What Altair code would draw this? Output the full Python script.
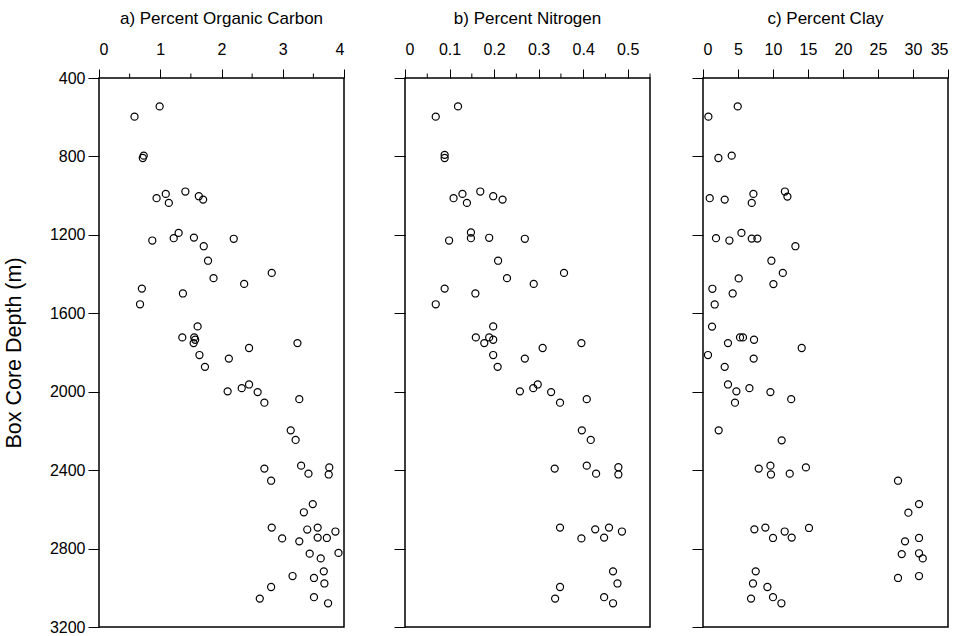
import altair as alt
import pandas as pd

# ---- data ----
depth_a = [545, 597, 796, 808, 1013, 991, 1037, 979, 1003, 1020, 1229, 1217, 1190, 1214, 1258, 1220,
           1332, 1421, 1394, 1450, 1474, 1499, 1554, 1667, 1723, 1723, 1735, 1752, 1777, 1752,
           1813, 1831, 1873, 1998, 1982, 1963, 2002, 2056, 2038, 2197, 2246, 2392, 2454, 2377,
           2418, 2386, 2422, 2573, 2615, 2693, 2748, 2703, 2693, 2744, 2746, 2713, 2763, 2826,
           2850, 2822, 2916, 2940, 2950, 2978, 2996, 3055, 3048, 3079]
carbon = [0.99, 0.58, 0.73, 0.715, 0.94, 1.09, 1.14, 1.41, 1.63, 1.70, 0.87, 1.22, 1.30, 1.55, 1.71, 2.20,
          1.78, 1.87, 2.82, 2.37, 0.70, 1.37, 0.67, 1.61, 1.36, 1.555, 1.57, 1.545, 2.45, 3.24,
          1.64, 2.12, 1.73, 2.10, 2.33, 2.45, 2.59, 2.70, 3.27, 3.13, 3.21, 2.70, 2.81, 3.30,
          3.42, 3.76, 3.75, 3.49, 3.345, 2.82, 2.99, 3.40, 3.57, 3.57, 3.72, 3.86, 3.27, 3.44,
          3.62, 3.91, 3.67, 3.16, 3.51, 3.68, 2.81, 2.625, 3.51, 3.74]

depth_b = [545, 597, 792, 808, 1013, 991, 1037, 979, 1003, 1020, 1229, 1188, 1217, 1215, 1220,
           1332, 1421, 1394, 1450, 1474, 1499, 1554, 1667, 1723, 1723, 1735, 1752, 1777, 1752,
           1813, 1831, 1873, 1998, 1982, 1963, 2002, 2056, 2038, 2197, 2246, 2392, 2377, 2418,
           2385, 2422, 2693, 2748, 2702, 2693, 2744, 2713, 2916, 2978, 2996, 3055, 3048, 3079]
nitrogen = [0.119, 0.069, 0.089, 0.089, 0.109, 0.129, 0.139, 0.169, 0.198, 0.219, 0.099, 0.148, 0.148, 0.189, 0.269,
            0.209, 0.229, 0.357, 0.289, 0.089, 0.158, 0.069, 0.198, 0.159, 0.189, 0.198, 0.178, 0.309, 0.396,
            0.198, 0.269, 0.208, 0.258, 0.288, 0.298, 0.328, 0.348, 0.408, 0.397, 0.417, 0.336, 0.408, 0.429,
            0.479, 0.479, 0.348, 0.396, 0.427, 0.458, 0.447, 0.487, 0.467, 0.477, 0.348, 0.337, 0.447, 0.467]

depth_c = [545, 597, 808, 796, 1013, 1020, 991, 1037, 979, 1005, 1217, 1229, 1190, 1219, 1219, 1258,
           1332, 1394, 1451, 1422, 1475, 1499, 1555, 1668, 1752, 1723, 1723, 1735, 1777,
           1813, 1831, 1873, 1963, 1998, 1982, 2002, 2056, 2038, 2197, 2248, 2392, 2377, 2422,
           2418, 2386, 2454, 2573, 2617, 2702, 2693, 2746, 2713, 2744, 2695, 2746, 2763,
           2828, 2824, 2850, 2916, 2978, 2996, 3055, 3048, 3079, 2950, 2940]
clay = [4.96, 0.77, 2.2, 4.1, 0.96, 3.1, 7.2, 6.96, 11.7, 12.06, 1.86, 3.77, 5.49, 6.96, 7.77, 13.2,
        9.77, 11.4, 10.06, 5.1, 1.34, 4.24, 1.67, 1.29, 3.57, 5.29, 5.71, 7.29, 14.1,
        0.71, 7.24, 3.1, 3.57, 4.77, 6.63, 9.63, 4.57, 12.6, 2.24, 11.24, 7.96, 9.63, 9.71,
        12.39, 14.7, 27.86, 30.86, 29.34, 7.34, 8.91, 10.0, 11.67, 12.67, 15.14, 30.86, 28.86,
        28.39, 30.86, 31.39, 7.53, 7.14, 9.2, 6.86, 10.0, 11.2, 27.86, 30.86]

titles = ["a) Percent Organic Carbon", "b) Percent Nitrogen", "c) Percent Clay"]
major_a = [0, 1, 2, 3, 4]
minor_a = [0.5, 1.5, 2.5, 3.5]
major_b = [0, 0.1, 0.2, 0.3, 0.4, 0.5]
minor_b = [0.05, 0.15, 0.25, 0.35, 0.45, 0.55]
major_c = [0, 5, 10, 15, 20, 25, 30, 35]
depth_ticks = [400, 800, 1200, 1600, 2000, 2400, 2800, 3200]

FONT = "Liberation Sans"
W, H = 245, 549


def panel(values, depths, domain, majors, minors, title, first):
    df = pd.DataFrame({"v": values, "depth": depths})
    if first:
        yaxis = alt.Axis(values=depth_ticks, title="Box Core Depth (m)", format="d",
                         tickSize=11, labelPadding=3, minExtent=50, maxExtent=50,
                         titleFontSize=21.5, titleFont=FONT, titleFontWeight="normal",
                         titleColor="black", titlePadding=24)
    else:
        yaxis = alt.Axis(values=depth_ticks, title=None, labels=False, tickSize=11)
    xaxis = alt.Axis(orient="top", values=majors, title=None, format="~g",
                     tickSize=9, labelPadding=12)
    xscale = alt.Scale(domain=domain, nice=False, zero=False)
    pts = alt.Chart(df).mark_point(shape="circle", filled=False, color="black",
                                   size=50, strokeWidth=1.2, opacity=1).encode(
        x=alt.X("v:Q", scale=xscale, axis=xaxis),
        y=alt.Y("depth:Q", scale=alt.Scale(domain=[400, 3200], reverse=True, nice=False),
                axis=yaxis),
    )
    layers = [pts]
    if minors:
        mdf = pd.DataFrame({"v": minors})
        rules = alt.Chart(mdf).mark_rule(color="black", strokeWidth=1).encode(
            x=alt.X("v:Q", scale=xscale, axis=xaxis),
            y=alt.value(0), y2=alt.value(-4.5),
        )
        layers.append(rules)
    return alt.layer(*layers).properties(
        width=W, height=H,
        title=alt.TitleParams(title, fontSize=17, font=FONT, fontWeight="normal",
                              color="black", offset=13),
    )


pa = panel(carbon, depth_a, [0, 4], major_a, minor_a, titles[0], True)
pb = panel(nitrogen, depth_b, [0, 0.55], major_b, minor_b, titles[1], False)
pc = panel(clay, depth_c, [0, 35], major_c, None, titles[2], False)

inner = alt.hconcat(pb, pc, spacing=53, bounds="flush")
chart = alt.hconcat(pa, inner, spacing=61, bounds="flush").properties(
    padding={"left": 2, "top": 9, "right": 5, "bottom": 5},
    background="white",
).configure_view(
    stroke="black", strokeWidth=1.5
).configure_axis(
    domain=False, grid=False, tickColor="black", tickWidth=1,
    labelColor="black", labelFont=FONT, labelFontSize=16
)

chart.save("out.html", embed_options={"renderer": "svg", "actions": False})
